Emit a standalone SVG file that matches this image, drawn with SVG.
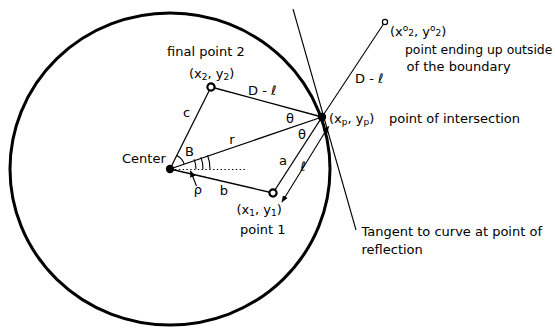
<svg xmlns="http://www.w3.org/2000/svg" width="555" height="328" viewBox="0 0 555 328">
<style>
text{font-family:"DejaVu Sans","Liberation Sans",sans-serif;font-size:13px;fill:#000}
.ln{stroke:#000;stroke-width:1.3;fill:none}
.thin{stroke:#000;stroke-width:1.1;fill:none}
.sub{font-size:9px}
</style>
<defs>
<marker id="ah" viewBox="0 0 10 10" refX="9" refY="5" markerWidth="7" markerHeight="7" orient="auto-start-reverse" markerUnits="userSpaceOnUse">
<path d="M0,1 L10,5 L0,9 z" fill="#000"/>
</marker>
</defs>
<rect width="555" height="328" fill="#fff"/>
<ellipse cx="170" cy="169" rx="160" ry="156" fill="none" stroke="#000" stroke-width="3"/>
<g id="connectors">
<line class="ln" x1="170" y1="169" x2="211" y2="87"/>
<line class="ln" x1="211" y1="87" x2="322" y2="117"/>
<line class="ln" x1="170" y1="169" x2="322" y2="117"/>
<line class="ln" x1="170" y1="169" x2="273" y2="193"/>
<line class="ln" x1="273" y1="193" x2="322" y2="117"/>
<line class="thin" x1="322" y1="117" x2="383.5" y2="24"/>
<line class="thin" x1="293" y1="9" x2="356" y2="230"/>
<line class="thin" x1="328.5" y1="126.5" x2="282" y2="202" marker-start="url(#ah)" marker-end="url(#ah)"/>
<line x1="175" y1="169.5" x2="245" y2="169.5" stroke="#000" stroke-width="1.1" stroke-dasharray="1.4 2.4"/>
<path class="thin" d="M176.7,155.6 A15,15 0 0 1 184.2,164.1"/>
<path class="thin" d="M196,169 A26,26 0 0 0 194.1,159.4"/>
<path class="thin" d="M203,169 A33,33 0 0 0 200.9,157.1"/>
<path class="thin" d="M210,169 A40,40 0 0 0 207.6,155.3"/>
<line class="thin" x1="196.5" y1="186" x2="190.5" y2="171" marker-end="url(#ah)"/>
</g>
<g id="center">
<circle cx="170" cy="169" r="4.2" fill="#000"/>
<text x="122" y="163">Center</text>
</g>
<g id="point2">
<circle cx="211" cy="87" r="3.6" fill="#fff" stroke="#000" stroke-width="2.2"/>
<text x="167" y="55.5">final point 2</text>
<text x="189" y="78">(x<tspan class="sub" dy="2">2</tspan><tspan dy="-2">, y</tspan><tspan class="sub" dy="2">2</tspan><tspan dy="-2">)</tspan></text>
</g>
<g id="point1">
<circle cx="273" cy="193" r="3.6" fill="#fff" stroke="#000" stroke-width="2.2"/>
<text x="236.5" y="213.5">(x<tspan class="sub" dy="2">1</tspan><tspan dy="-2">, y</tspan><tspan class="sub" dy="2">1</tspan><tspan dy="-2">)</tspan></text>
<text x="240" y="234">point 1</text>
</g>
<g id="intersection">
<circle cx="322" cy="117" r="4.2" fill="#000"/>
<text x="329" y="122.5">(x<tspan class="sub" dy="2">p</tspan><tspan dy="-2">, y</tspan><tspan class="sub" dy="2">p</tspan><tspan dy="-2">)</tspan></text>
<text x="389" y="123">point of intersection</text>
</g>
<g id="outside">
<circle cx="385" cy="22" r="2.6" fill="#fff" stroke="#000" stroke-width="1.2"/>
<text x="390" y="36">(x<tspan class="sub" dy="-5">o</tspan><tspan class="sub" dy="5">2</tspan>, y<tspan class="sub" dy="-5">o</tspan><tspan class="sub" dy="5">2</tspan>)</text>
<text x="405" y="54" style="font-size:12.4px">point ending up outside</text>
<text x="406.5" y="71">of the boundary</text>
</g>
<g id="tangent-label">
<text x="361.5" y="236">Tangent to curve at point of</text>
<text x="361.5" y="254">reflection</text>
</g>
<g id="labels">
<text x="248" y="95">D - ℓ</text>
<text x="355" y="83">D - ℓ</text>
<text x="186.5" y="117" text-anchor="middle">c</text>
<text x="232" y="144" text-anchor="middle">r</text>
<text x="189.5" y="156" text-anchor="middle">B</text>
<text x="290" y="123" text-anchor="middle">θ</text>
<text x="302" y="139" text-anchor="middle">θ</text>
<text x="283" y="165" text-anchor="middle">a</text>
<text x="303" y="171" text-anchor="middle">ℓ</text>
<text x="224" y="195" text-anchor="middle">b</text>
<text x="198" y="194" text-anchor="middle">ρ</text>
</g>
</svg>
